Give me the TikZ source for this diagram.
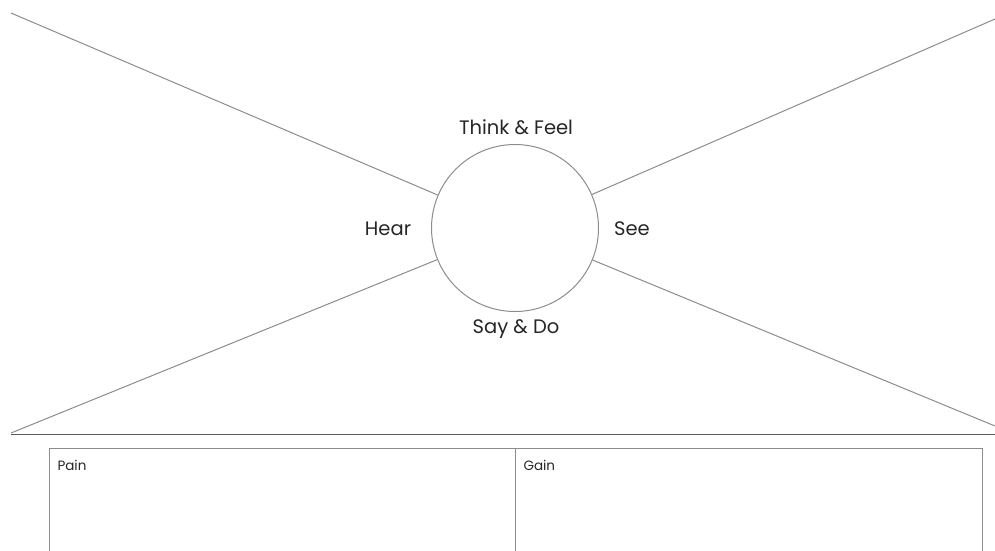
\documentclass[tikz,border=0pt]{standalone}
\usepackage{fontspec}
\setmainfont{Poppins}
\usepackage{xcolor}
\usepackage{tikz}
\usetikzlibrary{positioning, calc}

\definecolor{edgegray}{HTML}{8C8C8C}
\definecolor{rulegray}{HTML}{5A5A5A}
\definecolor{inkgray}{HTML}{262626}

\begin{document}
\begin{tikzpicture}[x=1pt, y=-1pt, font=\fontsize{19.5}{22}\selectfont,
		spoke/.style={edgegray, line width=1pt},
		quad/.style={inkgray},
		boxlabel/.style={inkgray, font=\fontsize{13.5}{16}\selectfont, anchor=west}]
			\useasboundingbox (0,0) rectangle (995,550);
			% centre circle
			\node[draw=edgegray, line width=1pt, circle, minimum size=167pt, inner sep=0pt] (hub) at (515,228) {};
			% free ends of the spokes
			\coordinate (tl) at (11,13);
			\coordinate (tr) at (995,19);
			\coordinate (bl) at (11,433);
			\coordinate (br) at (995,426);
			\draw[spoke] (tl) -- (hub);
			\draw[spoke] (tr) -- (hub);
			\draw[spoke] (bl) -- (hub);
			\draw[spoke] (br) -- (hub);
			% quadrant labels
			\node[quad] (think) at (516,127) {Think \& Feel};
			\node[quad] (hear) at (388,229) {Hear};
			\node[quad] (see) at (632,229) {See};
			\node[quad] (say) at (516,329) {Say \& Do};
			% ground line
			\coordinate (gl) at (11,434);
			\coordinate (gr) at (995,434);
			\draw[rulegray, line width=0.9pt] (gl) -- (gr);
			% pain / gain boxes
			\draw[edgegray, line width=1pt] (49,560) -- (49,448) -- (982,448) -- (982,560);
			\draw[edgegray, line width=1pt] (515,448) -- (515,560);
			\node[boxlabel] (pain) at (54,465) {Pain};
			\node[boxlabel] (gain) at (520,465) {Gain};
		\end{tikzpicture}
\end{document}
